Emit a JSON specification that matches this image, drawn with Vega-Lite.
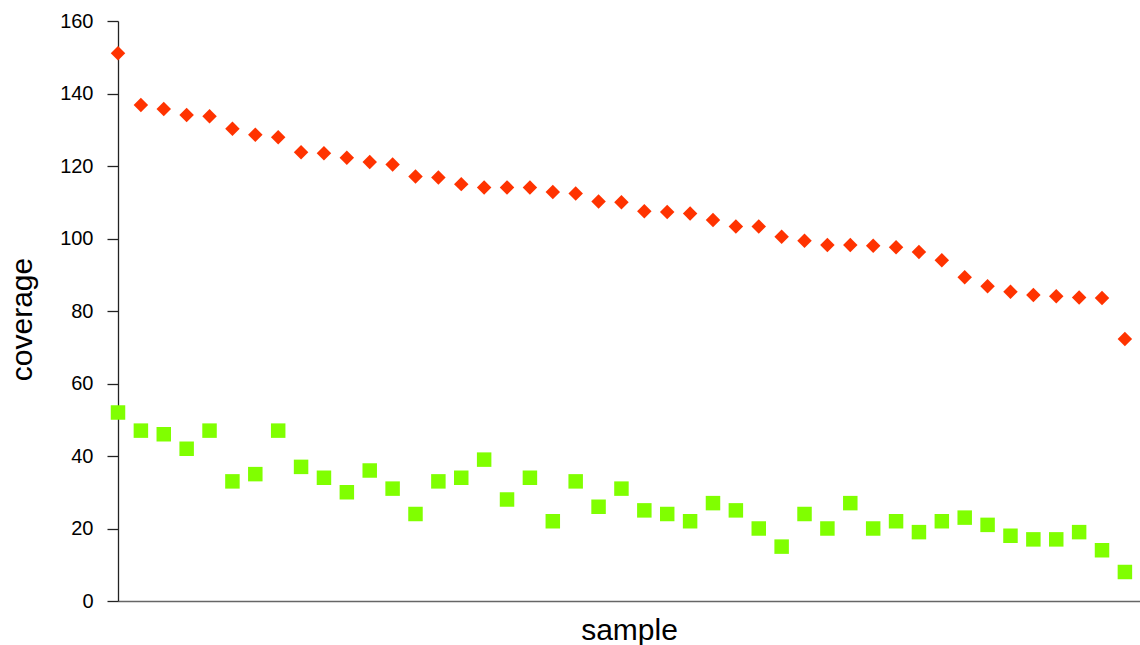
{
  "$schema": "https://vega.github.io/schema/vega-lite/v6.json",
  "width": 1022,
  "height": 580,
  "autosize": {"type": "none"},
  "padding": {"left": 118, "top": 21, "right": 0, "bottom": 44},
  "background": "white",
  "config": {
    "view": {"stroke": null},
    "font": "Liberation Sans"
  },
  "data": {
    "values": [
      {"sample": 1, "series": "high", "coverage": 151.1},
      {"sample": 2, "series": "high", "coverage": 136.8},
      {"sample": 3, "series": "high", "coverage": 135.7},
      {"sample": 4, "series": "high", "coverage": 134.1},
      {"sample": 5, "series": "high", "coverage": 133.7},
      {"sample": 6, "series": "high", "coverage": 130.3},
      {"sample": 7, "series": "high", "coverage": 128.6},
      {"sample": 8, "series": "high", "coverage": 127.9},
      {"sample": 9, "series": "high", "coverage": 123.8},
      {"sample": 10, "series": "high", "coverage": 123.5},
      {"sample": 11, "series": "high", "coverage": 122.3},
      {"sample": 12, "series": "high", "coverage": 121.1},
      {"sample": 13, "series": "high", "coverage": 120.4},
      {"sample": 14, "series": "high", "coverage": 117.1},
      {"sample": 15, "series": "high", "coverage": 116.8},
      {"sample": 16, "series": "high", "coverage": 115.0},
      {"sample": 17, "series": "high", "coverage": 114.1},
      {"sample": 18, "series": "high", "coverage": 114.1},
      {"sample": 19, "series": "high", "coverage": 114.1},
      {"sample": 20, "series": "high", "coverage": 112.8},
      {"sample": 21, "series": "high", "coverage": 112.4},
      {"sample": 22, "series": "high", "coverage": 110.2},
      {"sample": 23, "series": "high", "coverage": 110.0},
      {"sample": 24, "series": "high", "coverage": 107.5},
      {"sample": 25, "series": "high", "coverage": 107.3},
      {"sample": 26, "series": "high", "coverage": 106.9},
      {"sample": 27, "series": "high", "coverage": 105.1},
      {"sample": 28, "series": "high", "coverage": 103.3},
      {"sample": 29, "series": "high", "coverage": 103.3},
      {"sample": 30, "series": "high", "coverage": 100.5},
      {"sample": 31, "series": "high", "coverage": 99.4},
      {"sample": 32, "series": "high", "coverage": 98.2},
      {"sample": 33, "series": "high", "coverage": 98.2},
      {"sample": 34, "series": "high", "coverage": 98.0},
      {"sample": 35, "series": "high", "coverage": 97.6},
      {"sample": 36, "series": "high", "coverage": 96.3},
      {"sample": 37, "series": "high", "coverage": 94.0},
      {"sample": 38, "series": "high", "coverage": 89.3},
      {"sample": 39, "series": "high", "coverage": 86.8},
      {"sample": 40, "series": "high", "coverage": 85.3},
      {"sample": 41, "series": "high", "coverage": 84.4},
      {"sample": 42, "series": "high", "coverage": 84.1},
      {"sample": 43, "series": "high", "coverage": 83.7},
      {"sample": 44, "series": "high", "coverage": 83.6},
      {"sample": 45, "series": "high", "coverage": 72.3},
      {"sample": 1, "series": "low", "coverage": 52},
      {"sample": 2, "series": "low", "coverage": 47},
      {"sample": 3, "series": "low", "coverage": 46},
      {"sample": 4, "series": "low", "coverage": 42},
      {"sample": 5, "series": "low", "coverage": 47},
      {"sample": 6, "series": "low", "coverage": 33},
      {"sample": 7, "series": "low", "coverage": 35},
      {"sample": 8, "series": "low", "coverage": 47},
      {"sample": 9, "series": "low", "coverage": 37},
      {"sample": 10, "series": "low", "coverage": 34},
      {"sample": 11, "series": "low", "coverage": 30},
      {"sample": 12, "series": "low", "coverage": 36},
      {"sample": 13, "series": "low", "coverage": 31},
      {"sample": 14, "series": "low", "coverage": 24},
      {"sample": 15, "series": "low", "coverage": 33},
      {"sample": 16, "series": "low", "coverage": 34},
      {"sample": 17, "series": "low", "coverage": 39},
      {"sample": 18, "series": "low", "coverage": 28},
      {"sample": 19, "series": "low", "coverage": 34},
      {"sample": 20, "series": "low", "coverage": 22},
      {"sample": 21, "series": "low", "coverage": 33},
      {"sample": 22, "series": "low", "coverage": 26},
      {"sample": 23, "series": "low", "coverage": 31},
      {"sample": 24, "series": "low", "coverage": 25},
      {"sample": 25, "series": "low", "coverage": 24},
      {"sample": 26, "series": "low", "coverage": 22},
      {"sample": 27, "series": "low", "coverage": 27},
      {"sample": 28, "series": "low", "coverage": 25},
      {"sample": 29, "series": "low", "coverage": 20},
      {"sample": 30, "series": "low", "coverage": 15},
      {"sample": 31, "series": "low", "coverage": 24},
      {"sample": 32, "series": "low", "coverage": 20},
      {"sample": 33, "series": "low", "coverage": 27},
      {"sample": 34, "series": "low", "coverage": 20},
      {"sample": 35, "series": "low", "coverage": 22},
      {"sample": 36, "series": "low", "coverage": 19},
      {"sample": 37, "series": "low", "coverage": 22},
      {"sample": 38, "series": "low", "coverage": 23},
      {"sample": 39, "series": "low", "coverage": 21},
      {"sample": 40, "series": "low", "coverage": 18},
      {"sample": 41, "series": "low", "coverage": 17},
      {"sample": 42, "series": "low", "coverage": 17},
      {"sample": 43, "series": "low", "coverage": 19},
      {"sample": 44, "series": "low", "coverage": 14},
      {"sample": 45, "series": "low", "coverage": 8}
    ]
  },
  "mark": {"type": "point", "filled": true, "opacity": 1, "size": 210, "strokeWidth": 0},
  "encoding": {
    "x": {
      "field": "sample",
      "type": "quantitative",
      "scale": {"domain": [1, 45.66], "nice": false, "zero": false},
      "axis": {
        "title": "sample",
        "labels": false,
        "ticks": false,
        "grid": false,
        "domainColor": "#666666",
        "domainWidth": 1.3,
        "titleFont": "Liberation Sans",
        "titleFontSize": 30,
        "titleFontWeight": "normal",
        "titleColor": "#000000",
        "titlePadding": 14
      }
    },
    "y": {
      "field": "coverage",
      "type": "quantitative",
      "scale": {"domain": [0, 160], "nice": false},
      "axis": {
        "title": "coverage",
        "values": [0, 20, 40, 60, 80, 100, 120, 140, 160],
        "grid": false,
        "domainColor": "#222222",
        "domainWidth": 1.3,
        "tickColor": "#222222",
        "tickSize": 11,
        "tickWidth": 1.3,
        "labelFont": "Liberation Sans",
        "labelFontSize": 20,
        "labelColor": "#000000",
        "labelPadding": 14,
        "titleFont": "Liberation Sans",
        "titleFontSize": 30,
        "titleFontWeight": "normal",
        "titleColor": "#000000",
        "titlePadding": 22,
        "titleY": 298
      }
    },
    "shape": {
      "field": "series",
      "type": "nominal",
      "scale": {"domain": ["high", "low"], "range": ["diamond", "square"]},
      "legend": null
    },
    "color": {
      "field": "series",
      "type": "nominal",
      "scale": {"domain": ["high", "low"], "range": ["#FF3300", "#80FF00"]},
      "legend": null
    }
  }
}
